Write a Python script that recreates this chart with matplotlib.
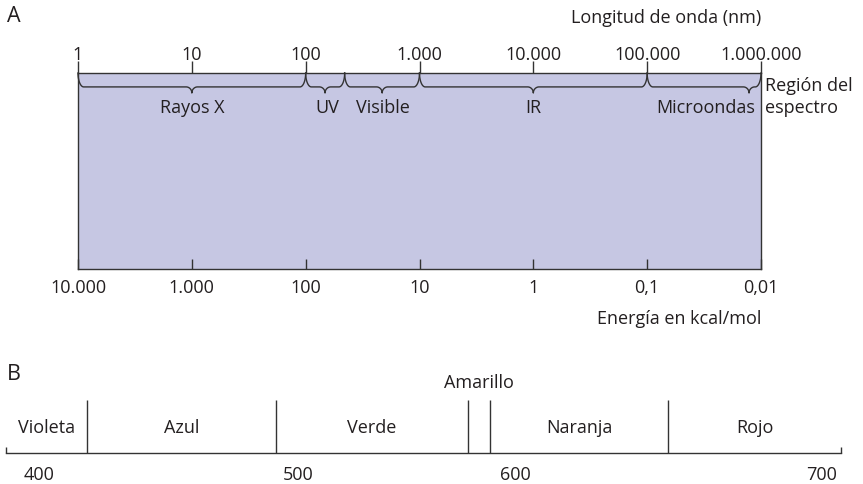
import numpy as np
import matplotlib
matplotlib.use("Agg")
import matplotlib.pyplot as plt
from matplotlib.ticker import NullLocator

plt.rcParams['font.family'] = ['Open Sans', 'DejaVu Sans']

# Panel A: wavelength (nm) scale and matching energy (kcal/mol)
wavelengths = [1, 10, 100, 1000, 10000, 100000, 1000000]
energies = [10000, 1000, 100, 10, 1, 0.1, 0.01]

# spectral regions (nm)
regions = ["Rayos X", "UV", "Visible", "IR", "Microondas"]
region_start = [1, 100, 220, 1000, 100000]
region_end = [100, 220, 1000, 100000, 1000000]
region_tip = [10, 148, 470, 10000, 785000]
region_label_x = [10, 154, 479, 10000, 324000]

# Panel B: visible colours (nm)
colors_b = ["Violeta", "Azul", "Verde", "Amarillo", "Naranja", "Rojo"]
color_edges = [400, 429, 497, 566, 574, 638, 700]
b_tick_labels = ["400", "500", "600", "700"]
b_tick_pos = [412, 505, 583, 693]

ink = '#231f20'
fill = '#c6c7e3'
fs = 13


def fmt(v):
    if v >= 1:
        return f"{int(v):,}".replace(",", ".")
    return str(v).replace(".", ",")


fig = plt.figure(figsize=(8.63, 4.84), dpi=100)

# ---------- A ----------
ax = fig.add_axes([78 / 863, 1 - 269 / 484, 683 / 863, 196 / 484])
ax.set_xscale('log')
ax.set_xlim(wavelengths[0], wavelengths[-1])
ax.set_ylim(0, 1)
ax.set_facecolor(fill)
for s in ax.spines.values():
    s.set_color('#333333')
    s.set_linewidth(1.0)
ax.set_yticks([])
ax.set_xticks(wavelengths)
ax.set_xticklabels([fmt(e) for e in energies])
ax.xaxis.set_minor_locator(NullLocator())
ax.tick_params(axis='x', direction='in', length=7, width=1.0, color='#333333',
               pad=7.5, labelsize=fs, labelcolor=ink)

top = ax.secondary_xaxis('top')
top.set_xticks(wavelengths)
top.set_xticklabels([fmt(w) for w in wavelengths])
top.xaxis.set_minor_locator(NullLocator())
top.spines['top'].set_visible(False)
top.tick_params(axis='x', direction='out', length=9, width=1.0, color='#333333',
                pad=-2.5, labelsize=fs, labelcolor=ink)

# braces
y0, yf, yt = 1.0, 0.929, 0.898
th = np.linspace(0, np.pi / 2, 25)
for a, b, t, lab, lx in zip(region_start, region_end, region_tip, regions, region_label_x):
    la, lb, lt = np.log10(a), np.log10(b), np.log10(t)
    r = 0.05
    h, ht = y0 - yf, yf - yt
    xs = np.concatenate([la + r - r * np.cos(th), lt - r + r * np.sin(th),
                         lt + r - r * np.cos(th), lb - r + r * np.sin(th)])
    ys = np.concatenate([y0 - h * np.sin(th), yt + ht * np.cos(th),
                         yt + ht * np.sin(th), y0 - h * np.cos(th)])
    ax.plot(10 ** xs, ys, color='#333333', lw=1.0, clip_on=False)
    ax.text(lx, 0.822, lab, ha='center', va='center', fontsize=fs, color=ink)

ax.annotate("Región del", xy=(1, 0.932), xycoords='axes fraction',
            xytext=(3, 0), textcoords='offset points', ha='left', va='center',
            fontsize=fs, color=ink)
ax.annotate("espectro", xy=(1, 0.822), xycoords='axes fraction',
            xytext=(3, 0), textcoords='offset points', ha='left', va='center',
            fontsize=fs, color=ink)

fig.text(7 / 863, 1 - 17 / 484, "A", fontsize=15.5, ha='left', va='center', color=ink)
fig.text(761 / 863, 1 - 18 / 484, "Longitud de onda (nm)", fontsize=fs,
         ha='right', va='center', color=ink)
fig.text(761 / 863, 1 - 319 / 484, "Energía en kcal/mol", fontsize=fs,
         ha='right', va='center', color=ink)

# ---------- B ----------
bx = fig.add_axes([6 / 863, 1 - 453 / 484, 835 / 863, 53 / 484])
bx.set_xlim(color_edges[0], color_edges[-1])
bx.set_ylim(0, 1)
bx.patch.set_alpha(0)
for k in ['top', 'left', 'right']:
    bx.spines[k].set_visible(False)
bx.spines['bottom'].set_color('#333333')
bx.spines['bottom'].set_linewidth(1.0)
bx.set_yticks([])
bx.set_xticks(b_tick_pos)
bx.set_xticklabels(b_tick_labels)
bx.tick_params(axis='x', length=0, pad=9, labelsize=fs, labelcolor=ink)

bx.vlines([color_edges[0], color_edges[-1]], 0, 6 / 53, color='#333333', lw=1.0, clip_on=False)
bx.vlines(color_edges[1:-1], 0, 1, color='#333333', lw=1.0, clip_on=False)
for i, name in enumerate(colors_b):
    mid = (color_edges[i] + color_edges[i + 1]) / 2
    yy = 1.32 if name == "Amarillo" else 0.472
    bx.text(mid, yy, name, ha='center', va='center', fontsize=fs, color=ink)

fig.text(7 / 863, 1 - 375 / 484, "B", fontsize=15.5, ha='left', va='center', color=ink)

fig.savefig("out.png", dpi=100)
